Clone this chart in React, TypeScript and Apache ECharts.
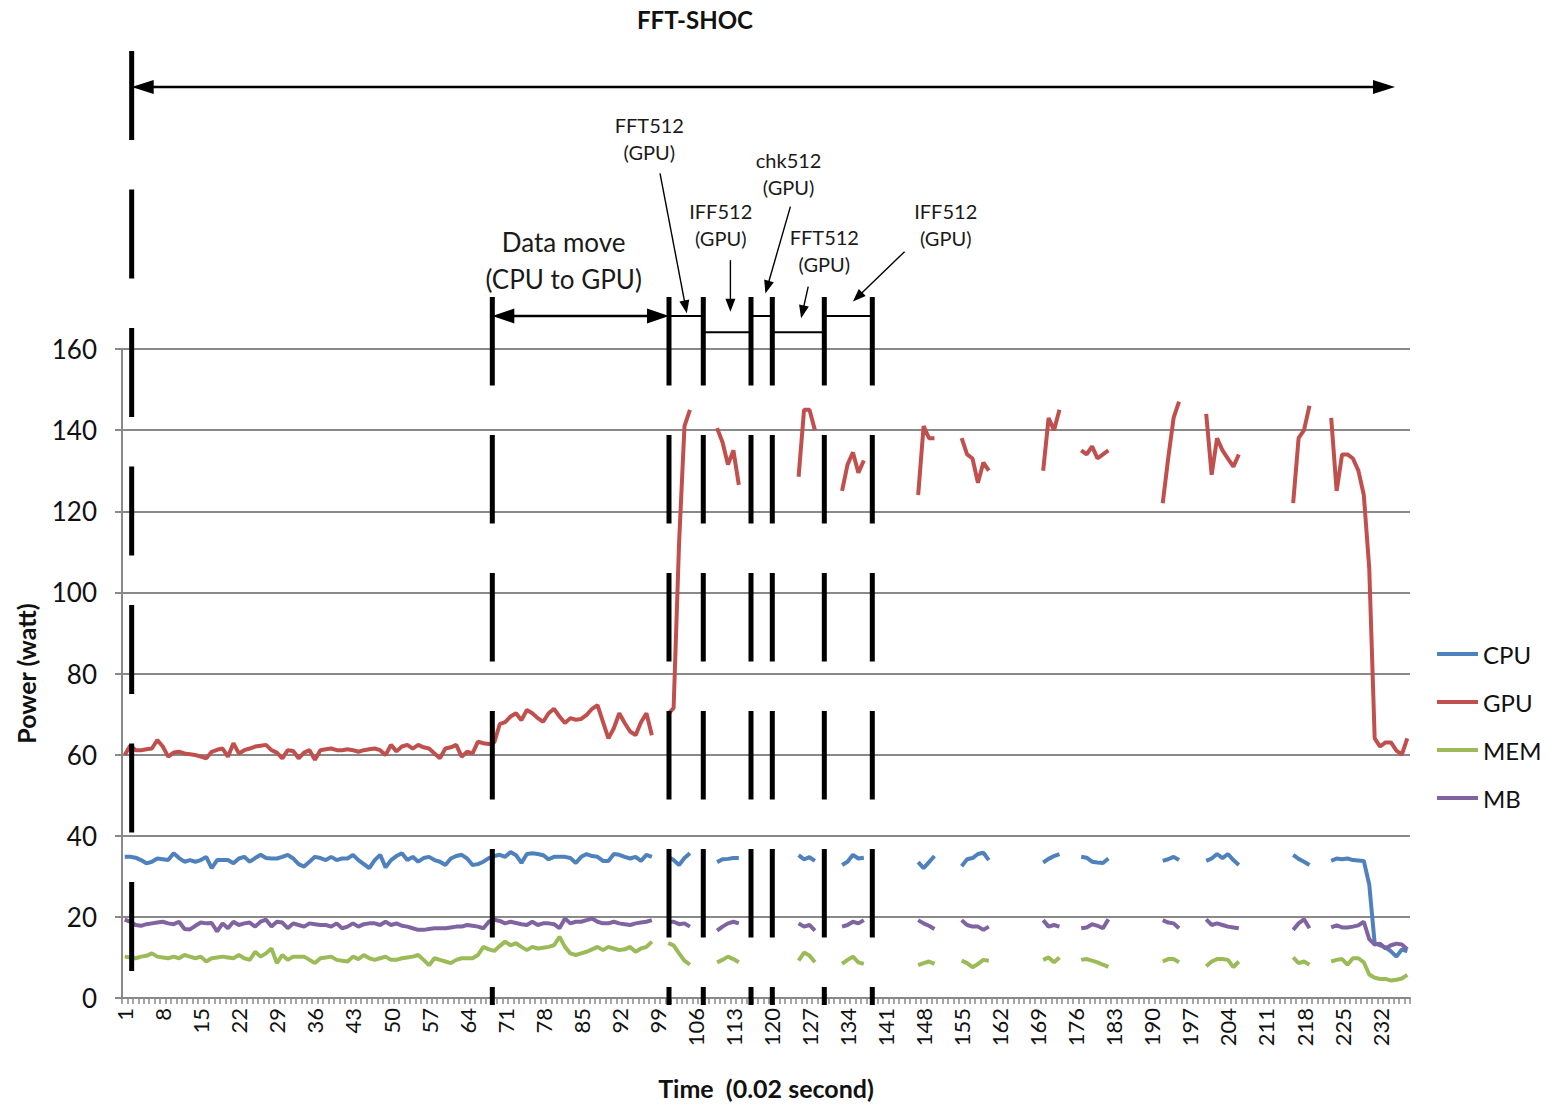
import React, { useEffect, useRef } from 'react';
import * as echarts from 'echarts';

// ---------- data ----------
const categories: string[] = Array.from({ length: 237 }, (_, i) => String(i + 1));
const tickLabelsEvery = 7;
const yTicks = { min: 0, max: 160, interval: 20 };

// first category of each measured run (all series share the same gaps)
const segmentStarts = [1, 101, 110, 125, 133, 147, 155, 170, 177, 192, 200, 216, 223];

const cpuSegments: number[][] = [
  [34.8,34.8,34.6,34.0,33.2,33.6,34.4,34.2,34.0,35.7, 34.5,33.6,34.0,33.6,34.0,34.8,32.0,34.0,34.0,34.0,
   33.2,34.4,34.8,33.6,34.5,35.3,34.5,34.4,34.4,34.8, 35.3,34.4,33.0,32.4,33.6,34.8,34.5,34.0,34.8,34.0,
   34.4,34.4,35.3,34.0,33.0,32.0,34.0,35.3,32.2,34.0, 35.0,35.7,34.0,34.8,33.6,34.5,34.8,34.0,33.6,32.8,
   34.4,35.0,35.3,34.4,32.8,33.0,33.6,
   34.5,35.0,35.3,34.8,36.0,35.2,33.3,35.5,35.7,35.5, 35.2,34.2,34.8,34.8,34.8,34.5,33.3,34.8,35.5,35.0,
   34.8,33.8,33.8,35.5,35.3,34.8,34.4,34.8,33.8,35.3, 34.8],
  [34.8,34.0,32.8,34.5,35.7],
  [33.5,34.2,34.3,34.5,34.5],
  [35.2,34.2,34.7,33.8],
  [32.8,33.6,35.3,34.4,34.6],
  [33.5,32.0,33.5,35.0],
  [32.5,34.2,34.5,35.5,35.8,34.0],
  [33.4,34.3,35.0,35.5],
  [34.8,34.6,33.6,33.4,33.3,34.4],
  [33.8,34.2,34.8,34.0],
  [33.8,34.4,35.5,34.5,35.5,34.0,32.8],
  [35.3,34.3,33.6,32.8],
  [33.8,34.4,34.2,34.4,34.0,33.9,33.8,28.0,13.5,13.0,12.5,11.5,10.2,12.0,11.5],
];

const gpuSegments: number[][] = [
  [59.9,62.2,61.1,61.1,61.3,61.5,63.6,62.0,59.5,60.5, 60.7,60.3,60.1,59.9,59.5,59.1,60.7,61.2,61.5,59.5,
   62.8,60.3,61.1,61.5,62.0,62.2,62.4,61.1,60.5,59.1, 61.1,60.9,59.1,60.5,61.1,58.7,61.1,61.3,61.5,61.1,
   61.1,61.3,61.1,60.7,61.1,61.3,61.5,61.1,59.9,62.4, 60.8,62.0,62.4,61.5,62.4,61.8,61.5,60.3,59.1,61.5,
   61.8,62.4,59.5,60.7,60.3,63.2,62.8,
   62.6,63.0,67.5,68.0,69.4,70.2,68.5,71.0,70.2,69.0, 68.1,70.2,71.3,69.4,67.8,69.0,68.6,68.8,69.8,71.3,
   72.2,68.1,64.0,66.5,70.2,67.8,65.7,64.8,68.0,70.2, 64.8],
  [70.0,71.5,112.0,141.0,145.0],
  [140.5,137.0,131.5,135.0,126.5],
  [128.5,145.0,145.0,140.0],
  [125.0,131.5,134.5,129.5,132.5],
  [124.0,141.0,138.0,138.0],
  [138.0,134.0,133.0,127.0,132.0,130.0],
  [130.0,143.0,140.0,145.0],
  [135.0,134.0,136.0,133.0,134.0,135.0],
  [122.0,133.0,143.0,147.0],
  [144.0,129.0,138.0,135.0,133.0,131.0,134.0],
  [122.0,138.0,140.0,146.0],
  [143.0,125.0,134.0,134.0,133.0,130.0,124.0,106.0,64.0,62.0,63.0,63.0,61.0,60.0,64.0],
];

const memSegments: number[][] = [
  [10.2,10.0,9.8,10.2,10.4,11.0,10.2,10.0,9.8,10.2, 9.8,10.6,10.2,9.8,10.2,9.0,9.8,10.0,10.2,10.0,
   9.8,10.6,9.8,9.4,11.4,10.2,11.0,12.2,8.6,10.6, 9.4,10.2,10.2,10.2,9.4,8.6,9.8,10.0,10.2,9.4,
   9.2,9.0,10.2,9.6,10.6,9.8,9.4,9.8,10.2,9.4, 9.4,9.8,10.0,10.2,10.6,9.4,8.1,9.8,9.4,9.0,
   8.6,9.4,9.8,9.8,9.8,10.6,12.6,
   12.0,11.6,12.8,13.9,13.0,13.5,12.6,11.8,12.6,12.2, 12.4,12.6,13.0,15.1,12.6,11.0,10.6,11.0,11.4,12.0,
   12.6,11.8,12.6,12.2,11.8,12.0,12.6,11.4,12.2,12.6, 13.9],
  [13.5,13.0,11.0,9.2,8.2],
  [8.8,9.4,10.2,9.6,8.8],
  [9.2,11.2,10.5,8.8],
  [8.4,9.4,10.2,8.8,8.4],
  [8.1,8.6,9.0,8.4],
  [9.2,8.6,7.6,8.4,9.4,9.2],
  [9.4,10.0,8.8,10.0],
  [9.4,9.6,9.2,8.8,8.2,7.7],
  [9.0,9.6,9.6,8.8],
  [7.8,9.0,9.6,9.6,9.4,7.6,9.0],
  [10.0,8.6,9.0,8.2],
  [9.0,9.4,9.6,8.2,9.8,9.8,8.8,5.8,5.0,4.7,4.7,4.3,4.5,4.8,5.7],
];

const mbSegments: number[][] = [
  [19.3,18.8,18.0,17.8,18.2,18.4,18.6,18.8,18.4,18.2, 18.8,17.0,16.9,17.8,18.6,18.4,18.5,16.4,18.4,17.2,
   18.8,18.0,18.4,18.6,17.6,18.8,19.3,17.6,18.8,18.6, 17.2,18.4,18.0,17.6,18.4,18.2,18.0,18.0,17.6,18.4,
   17.2,17.6,18.4,17.6,18.2,18.4,18.4,18.0,18.8,18.0, 18.4,17.8,17.6,17.2,16.8,16.8,17.0,17.2,17.2,17.2,
   17.4,17.6,17.6,18.0,17.8,17.6,17.2,
   18.8,19.3,19.0,18.4,18.8,18.5,18.2,18.0,18.8,18.0, 18.4,18.4,18.2,17.2,19.6,18.4,18.8,18.8,19.2,19.6,
   18.8,18.4,18.4,18.8,18.4,18.2,18.0,18.4,18.6,18.8, 19.2],
  [18.8,18.8,18.2,18.4,17.6],
  [16.6,17.6,18.4,18.8,18.4],
  [18.4,17.6,18.0,16.6],
  [17.6,18.0,18.8,18.4,19.2],
  [19.2,18.4,17.8,17.0],
  [19.2,18.0,17.6,17.6,16.8,17.6],
  [19.2,17.6,18.0,17.6],
  [17.2,17.4,18.2,17.8,17.2,19.4],
  [19.2,18.6,18.4,17.2],
  [19.4,18.0,18.4,18.0,17.6,17.4,17.2],
  [16.8,18.4,19.4,17.2],
  [17.4,17.9,17.4,17.4,17.6,17.9,18.8,14.5,13.2,13.4,12.2,13.0,13.4,13.2,12.0],
];

const seriesNames = ['CPU', 'GPU', 'MEM', 'MB'];

// ---------- annotations (x in category units, y in watts) ----------
const runBar = [[2.28, 233.47, 6.66]];
const phaseBars = [
  [68.64, 172.82, -1.73],
  [101.15, 172.82, -1.73],
  [107.46, 172.82, -1.73],
  [116.24, 172.82, -1.73],
  [120.16, 172.82, -1.73],
  [129.73, 172.82, -1.73],
  [138.56, 172.82, -1.73],
];
const runArrow = [[2.28, 224.59, 234.74, 224.59]];
const moveArrow = [[68.64, 168.14, 101.15, 168.14]];
const phaseSpans = [
  [101.15, 168.14, 107.46, 168.14],
  [107.46, 164.1, 116.24, 164.1],
  [116.24, 168.14, 120.16, 168.14],
  [120.16, 164.1, 129.73, 164.1],
  [129.73, 168.14, 138.56, 168.14],
];
const calloutArrows = [
  [99.5, 203.3, 104.43, 168.8],
  [112.45, 181.9, 112.45, 169.2],
  [123.49, 195.1, 118.89, 173.7],
  [126.77, 175.4, 125.46, 167.6],
  [144.5, 184.0, 134.99, 171.7],
];
const calloutTexts = ['FFT512\n(GPU)', 'IFF512\n(GPU)', 'chk512\n(GPU)', 'FFT512\n(GPU)', 'IFF512\n(GPU)'];
const calloutPos = [[97.53, 211.9], [110.67, 190.6], [123.16, 203.2], [129.73, 184.4], [152.07, 190.6]];
const moveText = ['Data move\n(CPU to GPU)'];
const movePos = [[81.76, 181.9]];

// ---------- helpers ----------
function expand(segs: number[][]): (number | null)[] {
  const out: (number | null)[] = categories.map(() => null);
  segs.forEach((vals, k) => {
    vals.forEach((v, j) => {
      out[segmentStarts[k] - 1 + j] = v;
    });
  });
  return out;
}

const FONT = 'Lato, "Noto Sans", sans-serif';
const GRAY = '#898989';
const COLORS = ['#4F81BD', '#C0504D', '#9BBB59', '#8064A2'];

function barSeries(data: number[][], dash: number[]) {
  return {
    type: 'custom', coordinateSystem: 'cartesian2d', xAxisIndex: 1, yAxisIndex: 1,
    silent: true, z: 10, encode: { x: 0, y: [1, 2] }, data,
    renderItem: (params: any, api: any) => {
      const a = api.coord([api.value(0), api.value(1)]);
      const b = api.coord([api.value(0), api.value(2)]);
      return {
        type: 'line',
        shape: { x1: a[0], y1: a[1], x2: b[0], y2: b[1] },
        style: { stroke: '#000', lineWidth: 5, lineDash: dash, lineCap: 'butt', fill: null },
      };
    },
  };
}

function arrowSeries(data: number[][], lineWidth: number, headLen: number, headWid: number, startHead: boolean, endHead: boolean) {
  return {
    type: 'custom', coordinateSystem: 'cartesian2d', xAxisIndex: 1, yAxisIndex: 1,
    silent: true, z: 11, encode: { x: [0, 2], y: [1, 3] }, data,
    renderItem: (params: any, api: any) => {
      const a = api.coord([api.value(0), api.value(1)]);
      const b = api.coord([api.value(2), api.value(3)]);
      const dx = b[0] - a[0];
      const dy = b[1] - a[1];
      const L = Math.hypot(dx, dy) || 1;
      const ux = dx / L;
      const uy = dy / L;
      const px = -uy;
      const py = ux;
      const s = startHead ? [a[0] + ux * headLen * 0.7, a[1] + uy * headLen * 0.7] : a;
      const e = endHead ? [b[0] - ux * headLen * 0.7, b[1] - uy * headLen * 0.7] : b;
      const children: any[] = [
        {
          type: 'line',
          shape: { x1: s[0], y1: s[1], x2: e[0], y2: e[1] },
          style: { stroke: '#000', lineWidth, fill: null },
        },
      ];
      const head = (tip: number[], dirx: number, diry: number) => ({
        type: 'polygon',
        shape: {
          points: [
            [tip[0], tip[1]],
            [tip[0] - dirx * headLen + px * headWid / 2, tip[1] - diry * headLen + py * headWid / 2],
            [tip[0] - dirx * headLen - px * headWid / 2, tip[1] - diry * headLen - py * headWid / 2],
          ],
        },
        style: { fill: '#000', stroke: null },
      });
      if (endHead) children.push(head(b, ux, uy));
      if (startHead) children.push(head(a, -ux, -uy));
      return { type: 'group', children };
    },
  };
}

function textSeries(pos: number[][], texts: string[], fontSize: number, lineHeight: number) {
  return {
    type: 'custom', coordinateSystem: 'cartesian2d', xAxisIndex: 1, yAxisIndex: 1,
    silent: true, z: 12, encode: { x: 0, y: 1 }, data: pos,
    renderItem: (params: any, api: any) => {
      const p = api.coord([api.value(0), api.value(1)]);
      return {
        type: 'text',
        x: p[0],
        y: p[1],
        style: {
          text: texts[params.dataIndex],
          fontSize, fontFamily: FONT, fill: '#1a1a1a',
          align: 'center', verticalAlign: 'middle', lineHeight,
        },
      };
    },
  };
}

export default function App() {
  const ref = useRef<HTMLDivElement>(null);

  useEffect(() => {
    if (!ref.current) return;
    const chart = echarts.init(ref.current, null, { renderer: 'svg' });
    const allSegments = [cpuSegments, gpuSegments, memSegments, mbSegments];

    const lineSeries = seriesNames.map((name, k) => ({
      name,
      type: 'line',
      xAxisIndex: 0,
      yAxisIndex: 0,
      data: expand(allSegments[k]),
      symbol: 'none',
      showSymbol: false,
      connectNulls: false,
      lineStyle: { color: COLORS[k], width: 4 },
      itemStyle: { color: COLORS[k] },
      z: 3,
    }));

    chart.setOption({
      animation: false,
      backgroundColor: '#ffffff',
      textStyle: { fontFamily: FONT },
      grid: [
        { left: 122, right: 148, top: 349, bottom: 107, containLabel: false, outerBoundsMode: 'none' },
        { left: 122, right: 148, top: 24.5, bottom: 66.4375, containLabel: false, outerBoundsMode: 'none' },
      ],
      xAxis: [
        {
          type: 'category', gridIndex: 0, data: categories, boundaryGap: true,
          axisLine: { show: true, lineStyle: { color: GRAY, width: 2 } },
          axisTick: { show: true, interval: 0, length: 6, lineStyle: { color: GRAY, width: 1.5 } },
          axisLabel: {
            interval: tickLabelsEvery - 1, rotate: 90, fontSize: 22, color: '#111',
            fontFamily: FONT, margin: 10,
          },
          splitLine: { show: false },
          name: 'Time  (0.02 second)', nameLocation: 'middle', nameGap: 77,
          nameTextStyle: { fontSize: 25, fontWeight: 'bold', color: '#111', fontFamily: FONT },
        },
        { type: 'value', gridIndex: 1, min: 0.5, max: 237.5, show: false, splitLine: { show: false } },
      ],
      yAxis: [
        {
          type: 'value', gridIndex: 0, min: yTicks.min, max: yTicks.max, interval: yTicks.interval,
          axisLine: { show: true, lineStyle: { color: GRAY, width: 2 } },
          axisTick: { show: true, length: 7, lineStyle: { color: GRAY, width: 2 } },
          axisLabel: { fontSize: 26, color: '#111', fontFamily: FONT, margin: 25 },
          splitLine: { show: true, lineStyle: { color: GRAY, width: 2 } },
          name: 'Power (watt)', nameLocation: 'middle', nameGap: 84, nameRotate: 90,
          nameTextStyle: { fontSize: 25, fontWeight: 'bold', color: '#111', fontFamily: FONT },
        },
        { type: 'value', gridIndex: 1, min: -10, max: 240, show: false, splitLine: { show: false } },
      ],
      legend: {
        data: seriesNames.map((name) => ({ name, icon: 'rect' })),
        orient: 'vertical',
        left: 1437,
        top: 642,
        padding: 0,
        itemWidth: 41,
        itemHeight: 4,
        itemGap: 24,
        textStyle: { fontSize: 24, color: '#111', fontFamily: FONT, lineHeight: 24 },
        selectedMode: false,
      },
      tooltip: { show: false },
      graphic: [
        {
          type: 'text', x: 695, y: 19,
          style: {
            text: 'FFT-SHOC', fontSize: 24, fontWeight: 'bold', fontFamily: FONT, fill: '#111',
            align: 'center', verticalAlign: 'middle',
          },
        },
      ],
      series: [
        ...lineSeries,
        barSeries(runBar, [89, 49.5]),
        barSeries(phaseBars, [88.5, 49.5]),
        arrowSeries(runArrow, 2.5, 22, 14, true, true),
        arrowSeries(moveArrow, 2.5, 22, 15, true, true),
        arrowSeries(phaseSpans, 2, 0, 0, false, false),
        arrowSeries(calloutArrows, 1.4, 13, 10, false, true),
        textSeries(calloutPos, calloutTexts, 20, 27),
        textSeries(movePos, moveText, 26, 37),
      ],
    });

    return () => chart.dispose();
  }, []);

  return (
    <div
      ref={ref}
      style={{ position: 'absolute', left: 0, top: 0, width: 1558, height: 1105, background: '#fff' }}
    />
  );
}
